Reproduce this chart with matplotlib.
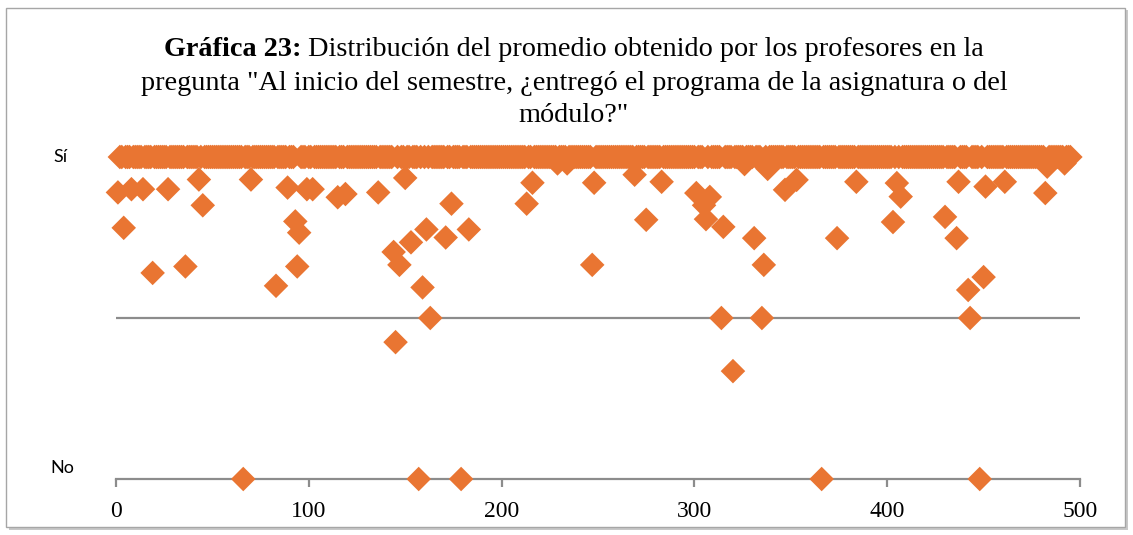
import numpy as np
import matplotlib
matplotlib.use("Agg")
import matplotlib.pyplot as plt
from matplotlib.patches import Rectangle

# ---------------- data ----------------
n_profesores = 495  # professors, x = 1..495
# professors whose average is not "Sí" (1.0); all the others have 1.0
idx_otros = [1, 4, 8, 14, 19, 27, 36, 43, 45, 66, 70, 83, 89, 93, 94, 95, 99, 102,
             115, 119, 136, 144, 145, 147, 150, 153, 157, 159, 161, 163, 171, 174,
             179, 183, 213, 216, 229, 234, 247, 248, 269, 275, 283, 301, 305, 306,
             308, 314, 315, 320, 326, 331, 335, 336, 338, 347, 353, 366, 374, 384,
             403, 405, 407, 430, 436, 437, 442, 443, 448, 450, 451, 461, 482, 483, 492]
val_otros = [0.89, 0.78, 0.90, 0.90, 0.64, 0.90, 0.66, 0.93, 0.85, 0.0, 0.93, 0.60,
             0.905, 0.80, 0.66, 0.765, 0.90, 0.90, 0.875, 0.885, 0.89, 0.705, 0.425,
             0.665, 0.935, 0.735, 0.0, 0.595, 0.775, 0.50, 0.75, 0.855, 0.0, 0.775,
             0.855, 0.92, 0.98, 0.98, 0.665, 0.92, 0.945, 0.805, 0.923, 0.888, 0.85,
             0.807, 0.876, 0.50, 0.783, 0.335, 0.978, 0.748, 0.50, 0.665, 0.963,
             0.898, 0.929, 0.0, 0.748, 0.923, 0.798, 0.919, 0.877, 0.814, 0.748,
             0.923, 0.587, 0.50, 0.0, 0.627, 0.908, 0.923, 0.888, 0.97, 0.98]

x_ticks = [0, 100, 200, 300, 400, 500]
y_ticks = [0, 1]
y_labels = ["No", "Sí"]

titulo_bold = "Gráfica 23:"
titulo_l1 = " Distribución del promedio obtenido por los profesores en la"
titulo_l2 = 'pregunta "Al inicio del semestre, ¿entregó el programa de la asignatura o del'
titulo_l3 = 'módulo?"'

# build series
x = np.arange(1, n_profesores + 1)
y = np.ones(n_profesores)
y[np.array(idx_otros) - 1] = val_otros

# ---------------- figure ----------------
W, H = 1133, 535
fig = plt.figure(figsize=(W / 100, H / 100), dpi=100)
fig.patch.set_facecolor("white")

# outer frame with shadow
fig.patches.append(Rectangle((9 / W, 1 - 530 / H), 1119 / W, 520 / H, transform=fig.transFigure,
                             facecolor="#C8C8C8", edgecolor="none", zorder=0))
fig.patches.append(Rectangle((6 / W, 1 - 527 / H), 1119 / W, 519 / H, transform=fig.transFigure,
                             facecolor="white", edgecolor="#A6A6A6", lw=1.0, zorder=1))

x0, x1 = 116, 1080
ybot, ytop = 479, 157
ax = fig.add_axes([x0 / W, 1 - ybot / H, (x1 - x0) / W, (ybot - ytop) / H])
ax.set_zorder(2)
ax.patch.set_alpha(0)
ax.set_xlim(0, 500)
ax.set_ylim(0, 1)

grid_c = "#8C8C8C"
for gy in [0.5, 1.0]:
    ax.axhline(gy, color=grid_c, lw=1.6, zorder=1)

ax.scatter(x, y, marker="D", s=12.5 ** 2, color="#E97532", edgecolors="none",
           clip_on=False, zorder=3)

for s in ["top", "right", "left"]:
    ax.spines[s].set_visible(False)
ax.spines["bottom"].set_color(grid_c)
ax.spines["bottom"].set_linewidth(1.6)
ax.set_xticks(x_ticks)
ax.set_xticklabels([str(t) for t in x_ticks], family="Liberation Serif", fontsize=17)
ax.tick_params(axis="x", direction="out", length=5.5, width=1.6, color=grid_c, pad=10)
ax.set_yticks([])

# y labels
ax.text(-29, 1.0, y_labels[1], family="Lato", fontsize=13, ha="center", va="center")
ax.text(-28, 0.035, y_labels[0], family="Lato", fontsize=13, ha="center", va="center")

# ---------------- title ----------------
fs = 20.3
cx = 574 / W
tb = fig.text(0, 1 - 50 / H, titulo_bold, family="Liberation Serif", fontsize=fs,
              fontweight="bold", va="center", ha="left")
tr = fig.text(0, 1 - 50 / H, titulo_l1, family="Liberation Serif", fontsize=fs,
              va="center", ha="left")
fig.canvas.draw()
r = fig.canvas.get_renderer()
wb = tb.get_window_extent(r).width
wr = tr.get_window_extent(r).width
start = cx * W - (wb + wr) / 2
tb.set_x(start / W)
tr.set_x((start + wb) / W)
fig.text(cx, 1 - 83 / H, titulo_l2, family="Liberation Serif", fontsize=fs, va="center", ha="center")
fig.text(cx, 1 - 116 / H, titulo_l3, family="Liberation Serif", fontsize=fs, va="center", ha="center")

fig.savefig("out.png", dpi=100, facecolor="white")
